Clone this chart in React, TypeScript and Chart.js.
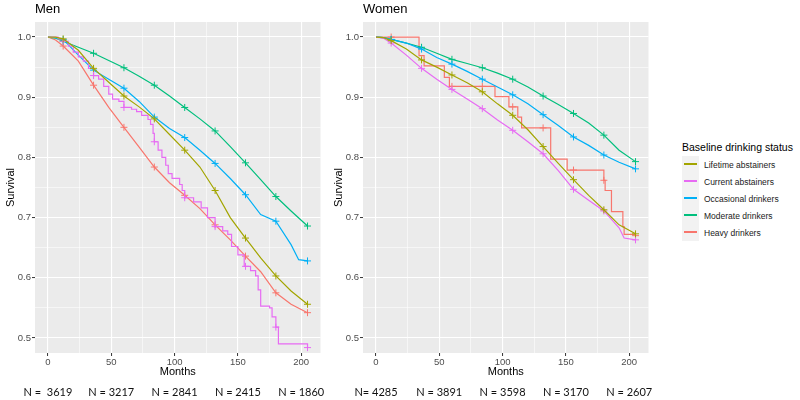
import React, { useEffect, useRef } from "react";
import { Chart, registerables } from "chart.js";

Chart.register(...registerables);

const FONT = "'Liberation Sans', Arial, Helvetica, sans-serif";

// ---- legend / series ----
const seriesNames = [
  "Lifetime abstainers",
  "Current abstainers",
  "Occasional drinkers",
  "Moderate drinkers",
  "Heavy drinkers",
];
const seriesColors = ["#A3A500", "#E76BF3", "#00B0F6", "#00BF7D", "#F8766D"];
const legendTitle = "Baseline drinking status";

// ---- axes ----
const xTickValues = [0, 50, 100, 150, 200];
const xGridValues = [0, 25, 50, 75, 100, 125, 150, 175, 200];
const yTickValues = [0.5, 0.6, 0.7, 0.8, 0.9, 1.0];
const yGridValues = [0.5, 0.55, 0.6, 0.65, 0.7, 0.75, 0.8, 0.85, 0.9, 0.95, 1.0];
const censorMonths = [12, 36, 60, 84, 108, 132, 156, 180, 205];

// ---- numbers at risk ----
const menAtRisk = ["N =  3619", "N = 3217", "N = 2841", "N = 2415", "N = 1860"];
const womenAtRisk = ["N= 4285", "N = 3891", "N = 3598", "N = 3170", "N = 2607"];

// ---- Men ----
const menLifetimeMonths = [0, 6, 12, 24, 36, 48, 60, 72, 84, 96, 108, 120, 132, 144, 156, 168, 180, 192, 205];
const menLifetime = [1.0, 1.0, 0.997, 0.978, 0.948, 0.925, 0.902, 0.884, 0.864, 0.838, 0.812, 0.784, 0.745, 0.700, 0.666, 0.633, 0.603, 0.578, 0.556];

const menCurrentMonths = [0, 8, 12, 16, 20, 24, 28, 32, 36, 40, 44, 48, 51, 56, 60, 66, 70, 74, 79, 81, 83, 84, 87, 90, 93, 95, 98, 104, 106, 108, 115, 121, 126, 132, 138, 142, 145, 150, 155, 156, 160, 164, 166, 168, 175, 177, 180, 182, 205];
const menCurrent = [1.0, 0.997, 0.993, 0.985, 0.975, 0.967, 0.960, 0.948, 0.936, 0.930, 0.918, 0.905, 0.897, 0.893, 0.883, 0.880, 0.876, 0.870, 0.863, 0.855, 0.840, 0.826, 0.812, 0.800, 0.787, 0.773, 0.765, 0.755, 0.745, 0.733, 0.726, 0.716, 0.700, 0.685, 0.678, 0.672, 0.652, 0.638, 0.619, 0.619, 0.612, 0.603, 0.580, 0.553, 0.550, 0.535, 0.518, 0.490, 0.484];

const menOccasionalMonths = [0, 6, 12, 24, 36, 48, 60, 72, 84, 96, 108, 120, 132, 144, 156, 168, 180, 192, 198, 205];
const menOccasional = [1.0, 0.999, 0.996, 0.970, 0.945, 0.930, 0.915, 0.893, 0.867, 0.848, 0.833, 0.812, 0.790, 0.765, 0.738, 0.705, 0.694, 0.655, 0.630, 0.628];

const menModerateMonths = [0, 6, 12, 24, 36, 48, 60, 72, 84, 96, 108, 120, 132, 144, 156, 168, 180, 192, 205];
const menModerate = [1.0, 0.998, 0.993, 0.983, 0.973, 0.961, 0.949, 0.935, 0.920, 0.902, 0.883, 0.864, 0.844, 0.818, 0.791, 0.763, 0.735, 0.711, 0.686];

const menHeavyMonths = [0, 6, 12, 24, 36, 48, 60, 72, 84, 96, 108, 120, 132, 144, 156, 168, 180, 192, 205];
const menHeavy = [1.0, 0.995, 0.985, 0.960, 0.920, 0.883, 0.850, 0.817, 0.784, 0.758, 0.737, 0.715, 0.688, 0.663, 0.636, 0.610, 0.575, 0.556, 0.542];

// ---- Women ----
const womenLifetimeMonths = [0, 6, 12, 24, 36, 48, 60, 72, 84, 96, 108, 120, 132, 144, 156, 168, 180, 192, 205];
const womenLifetime = [1.0, 0.999, 0.994, 0.980, 0.962, 0.950, 0.937, 0.924, 0.909, 0.889, 0.870, 0.846, 0.818, 0.790, 0.763, 0.737, 0.713, 0.688, 0.673];

const womenCurrentMonths = [0, 6, 12, 24, 36, 48, 60, 72, 84, 96, 108, 120, 132, 144, 156, 168, 180, 192, 196, 205];
const womenCurrent = [1.0, 0.998, 0.990, 0.970, 0.948, 0.930, 0.913, 0.897, 0.881, 0.862, 0.845, 0.826, 0.806, 0.778, 0.747, 0.729, 0.711, 0.683, 0.666, 0.663];

const womenOccasionalMonths = [0, 6, 12, 24, 36, 48, 60, 72, 84, 96, 108, 120, 132, 144, 156, 168, 180, 192, 205];
const womenOccasional = [1.0, 0.999, 0.996, 0.990, 0.980, 0.966, 0.955, 0.943, 0.930, 0.917, 0.904, 0.889, 0.871, 0.853, 0.834, 0.820, 0.804, 0.792, 0.781];

const womenModerateMonths = [0, 6, 12, 24, 36, 48, 60, 72, 84, 96, 108, 120, 132, 144, 156, 168, 180, 192, 205];
const womenModerate = [1.0, 0.999, 0.996, 0.990, 0.983, 0.973, 0.963, 0.956, 0.949, 0.940, 0.930, 0.917, 0.902, 0.888, 0.873, 0.857, 0.837, 0.812, 0.793];

const womenHeavyMonths = [0, 12, 34, 38, 54, 58, 60, 84, 94, 105, 108, 112, 115, 132, 138, 151, 156, 180, 181, 186, 195, 196, 205];
const womenHeavy = [1.0, 1.0, 0.969, 0.952, 0.933, 0.918, 0.918, 0.918, 0.901, 0.884, 0.884, 0.867, 0.849, 0.849, 0.797, 0.779, 0.779, 0.762, 0.745, 0.710, 0.685, 0.672, 0.670];

type Group = { months: number[]; values: number[]; stepped: boolean };

const menGroups: Group[] = [
  { months: menLifetimeMonths, values: menLifetime, stepped: false },
  { months: menCurrentMonths, values: menCurrent, stepped: true },
  { months: menOccasionalMonths, values: menOccasional, stepped: false },
  { months: menModerateMonths, values: menModerate, stepped: false },
  { months: menHeavyMonths, values: menHeavy, stepped: false },
];

const womenGroups: Group[] = [
  { months: womenLifetimeMonths, values: womenLifetime, stepped: false },
  { months: womenCurrentMonths, values: womenCurrent, stepped: false },
  { months: womenOccasionalMonths, values: womenOccasional, stepped: false },
  { months: womenModerateMonths, values: womenModerate, stepped: false },
  { months: womenHeavyMonths, values: womenHeavy, stepped: true },
];

const isMajorY = (v: number) => Math.abs(v * 10 - Math.round(v * 10)) < 1e-6;

const panelBackground = {
  id: "panelBackground",
  beforeDraw(chart: any) {
    const { ctx, chartArea } = chart;
    ctx.save();
    ctx.fillStyle = "#EBEBEB";
    ctx.fillRect(chartArea.left, chartArea.top, chartArea.right - chartArea.left, chartArea.bottom - chartArea.top);
    ctx.restore();
  },
};

function atRiskPlugin(labels: string[]) {
  return {
    id: "atRisk",
    afterDraw(chart: any) {
      const { ctx } = chart;
      const xs = chart.scales.x;
      ctx.save();
      ctx.font = "11px Lato, 'Open Sans', sans-serif";
      ctx.fillStyle = "#111111";
      ctx.textAlign = "center";
      ctx.textBaseline = "middle";
      xTickValues.forEach((v, i) => {
        ctx.fillText(labels[i], xs.getPixelForValue(v), 392);
      });
      ctx.restore();
    },
  };
}

function buildConfig(title: string, groups: Group[], atRisk: string[]): any {
  const datasets = groups.map((g, i) => ({
    label: seriesNames[i],
    data: g.months.map((m, j) => ({ x: m, y: g.values[j] })),
    borderColor: seriesColors[i],
    backgroundColor: seriesColors[i],
    borderWidth: 1.2,
    stepped: g.stepped,
    tension: 0,
    fill: false,
    pointStyle: "cross",
    pointRadius: (c: any) => (c.raw && censorMonths.includes(c.raw.x) ? 3.5 : 0),
    pointBorderWidth: 1,
    pointHoverRadius: 0,
  }));

  return {
    type: "line",
    data: { datasets },
    options: {
      animation: false,
      responsive: false,
      maintainAspectRatio: false,
      events: [],
      layout: { padding: { left: 0, right: 1.5, top: 0, bottom: 17 } },
      plugins: {
        legend: { display: false },
        tooltip: { enabled: false },
        title: {
          display: true,
          text: title,
          align: "start",
          fullSize: false,
          color: "#000000",
          font: { family: FONT, size: 13, weight: "normal" },
          padding: { top: 2, bottom: 4.4 },
        },
      },
      scales: {
        x: {
          type: "linear",
          min: -10.25,
          max: 215.25,
          afterBuildTicks: (s: any) => {
            s.ticks = xGridValues.map((v) => ({ value: v }));
          },
          afterFit: (s: any) => {
            s.height = 30;
          },
          border: { display: false },
          grid: {
            color: "#FFFFFF",
            lineWidth: (c: any) => (c.tick && xTickValues.includes(c.tick.value) ? 1.1 : 0.55),
            tickColor: (c: any) => (c.tick && xTickValues.includes(c.tick.value) ? "#333333" : "rgba(0,0,0,0)"),
            tickLength: 3,
            tickWidth: 1,
            drawTicks: true,
          },
          ticks: {
            autoSkip: false,
            maxRotation: 0,
            padding: 1,
            color: "#4D4D4D",
            font: { family: FONT, size: 9.5 },
            callback: (v: any) => (xTickValues.includes(v) ? String(v) : ""),
          },
          title: {
            display: true,
            text: "Months",
            color: "#000000",
            font: { family: FONT, size: 11 },
            padding: { top: 4, bottom: 4 },
          },
        },
        y: {
          type: "linear",
          min: 0.475,
          max: 1.025,
          afterBuildTicks: (s: any) => {
            s.ticks = yGridValues.map((v) => ({ value: v }));
          },
          afterFit: (s: any) => {
            s.width = 35;
          },
          border: { display: false },
          grid: {
            color: "#FFFFFF",
            lineWidth: (c: any) => (c.tick && isMajorY(c.tick.value) ? 1.1 : 0.55),
            tickColor: (c: any) => (c.tick && isMajorY(c.tick.value) ? "#333333" : "rgba(0,0,0,0)"),
            tickLength: 3,
            tickWidth: 1,
            drawTicks: true,
          },
          ticks: {
            autoSkip: false,
            padding: 1,
            color: "#4D4D4D",
            font: { family: FONT, size: 9.5 },
            callback: (v: any) => (isMajorY(v) && yTickValues.some((t) => Math.abs(t - v) < 1e-6) ? Number(v).toFixed(1) : ""),
          },
          title: {
            display: true,
            text: "Survival",
            color: "#000000",
            font: { family: FONT, size: 11 },
            padding: { top: 4, bottom: 4 },
          },
        },
      },
    },
    plugins: [panelBackground, atRiskPlugin(atRisk)],
  };
}

function Panel({ left, title, groups, atRisk }: { left: number; title: string; groups: Group[]; atRisk: string[] }) {
  const ref = useRef<HTMLCanvasElement | null>(null);
  useEffect(() => {
    if (!ref.current) return;
    const chart = new Chart(ref.current, buildConfig(title, groups, atRisk));
    return () => chart.destroy();
  }, []);
  return (
    <div style={{ position: "absolute", left, top: 0, width: 325, height: 400 }}>
      <canvas ref={ref} width={325} height={400} style={{ display: "block", width: 325, height: 400 }} />
    </div>
  );
}

function Legend() {
  return (
    <div style={{ position: "absolute", left: 682, top: 140, fontFamily: FONT, color: "#000" }}>
      <div style={{ fontSize: 10.5, lineHeight: "14px", height: 16, whiteSpace: "nowrap" }}>{legendTitle}</div>
      {seriesNames.map((name, i) => (
        <div key={name} style={{ display: "flex", alignItems: "center", height: 17 }}>
          <div style={{ width: 17, height: 17, background: "#F2F2F2", position: "relative" }}>
            <div style={{ position: "absolute", left: 2, width: 13, top: 7, height: 2, background: seriesColors[i] }} />
          </div>
          <div style={{ marginLeft: 5, fontSize: 8.5, whiteSpace: "nowrap", color: "#1A1A1A" }}>{name}</div>
        </div>
      ))}
    </div>
  );
}

export default function App() {
  return (
    <div style={{ position: "absolute", left: 0, top: 0, width: 800, height: 400, background: "#FFFFFF", overflow: "hidden" }}>
      <Panel left={0} title="Men" groups={menGroups} atRisk={menAtRisk} />
      <Panel left={328} title="Women" groups={womenGroups} atRisk={womenAtRisk} />
      <Legend />
    </div>
  );
}
